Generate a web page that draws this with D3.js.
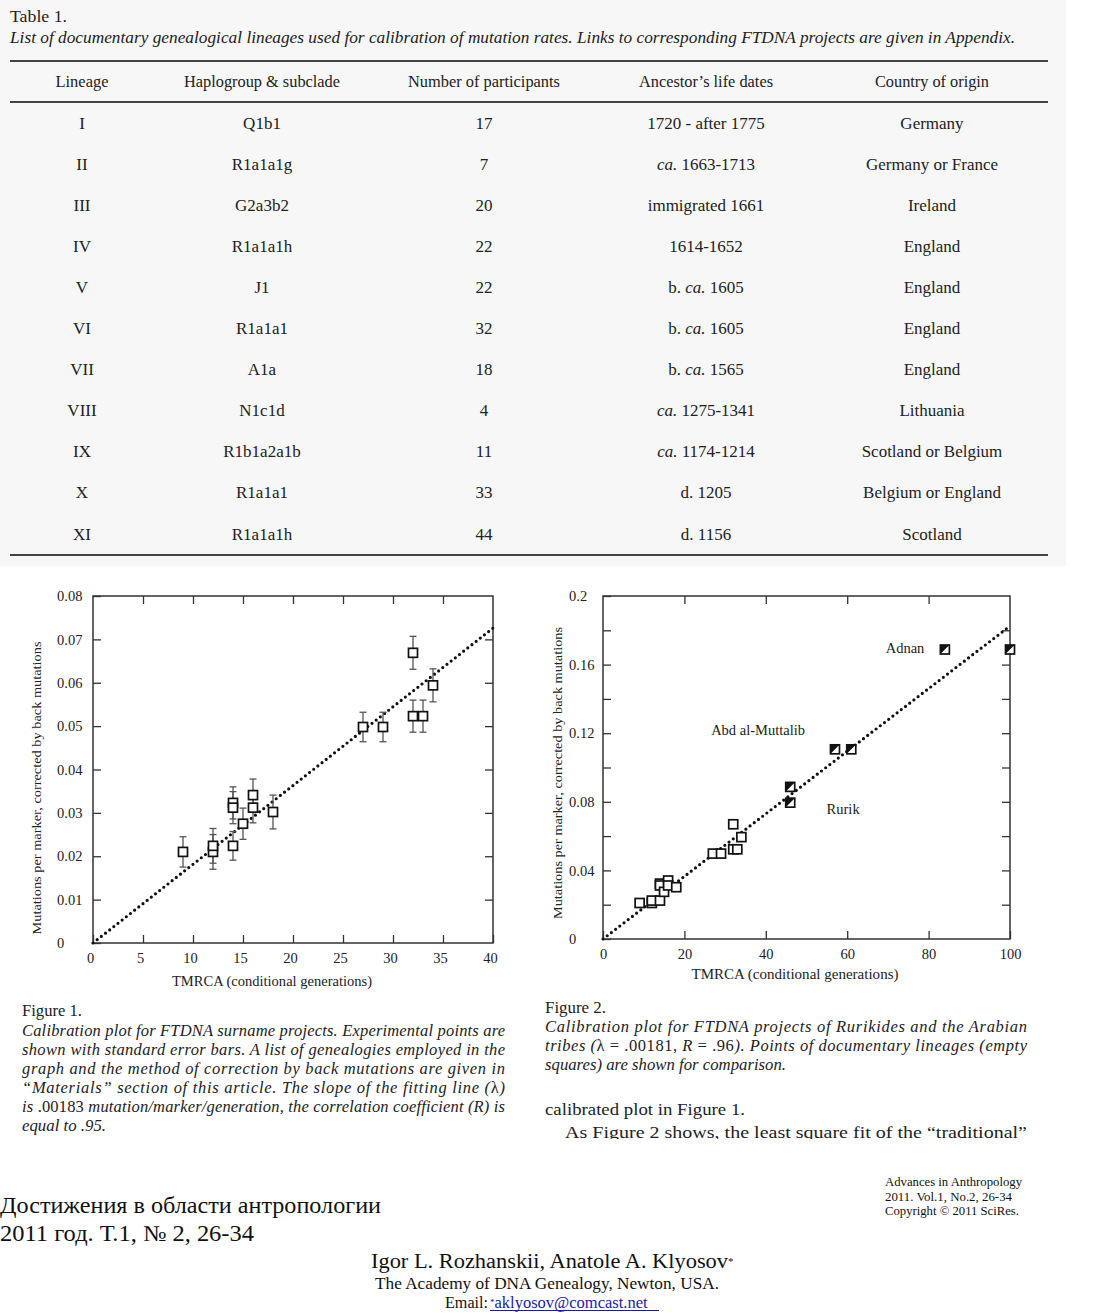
<!DOCTYPE html>
<html><head><meta charset="utf-8">
<script src="https://cdn.jsdelivr.net/npm/d3@7"></script>
<style>
html,body{margin:0;padding:0;background:#fff;}
svg{display:block;}
text{font-family:"Liberation Serif","Times New Roman",serif;}
</style></head>
<body>
<script>
// ---------- Table data ----------
const tableHeaders = ["Lineage","Haplogroup & subclade","Number of participants","Ancestor\u2019s life dates","Country of origin"];
const lineages = ["I","II","III","IV","V","VI","VII","VIII","IX","X","XI"];
const haplogroups = ["Q1b1","R1a1a1g","G2a3b2","R1a1a1h","J1","R1a1a1","A1a","N1c1d","R1b1a2a1b","R1a1a1","R1a1a1h"];
const participants = [17,7,20,22,22,32,18,4,11,33,44];
const lifeDates = ["1720 - after 1775","ca. 1663-1713","immigrated 1661","1614-1652","b. ca. 1605","b. ca. 1605","b. ca. 1565","ca. 1275-1341","ca. 1174-1214","d. 1205","d. 1156"];
const countries = ["Germany","Germany or France","Ireland","England","England","England","England","Lithuania","Scotland or Belgium","Belgium or England","Scotland"];

// ---------- Figure 1 data (documentary lineages) ----------
const tmrca = [9,12,12,14,14,14,15,16,16,18,27,29,32,32,33,34];
const mutRate = [0.021,0.021,0.0224,0.0323,0.0312,0.0224,0.0275,0.0341,0.0312,0.0302,0.0498,0.0498,0.0669,0.0523,0.0523,0.0594];
const mutErr = [0.0035,0.004,0.004,0.0037,0.0037,0.0033,0.0036,0.0037,0.0035,0.0039,0.0034,0.0034,0.0038,0.0037,0.0037,0.0038];
const fit1X = [0,40];
const fit1Y = [0,0.0726];
const fig1XTicks = [0,5,10,15,20,25,30,35,40];
const fig1YTicks = [0,0.01,0.02,0.03,0.04,0.05,0.06,0.07,0.08];
const fig1YLabels = ["0","0.01","0.02","0.03","0.04","0.05","0.06","0.07","0.08"];

// ---------- Figure 2 data (Rurikides & Arabian tribes) ----------
const tribeX = [46,46,57,61,84,100];
const tribeY = [0.0887,0.0795,0.1106,0.1106,0.1688,0.1688];
const fit2X = [0,100];
const fit2Y = [0,0.1825];
const fig2XTicks = [0,20,40,60,80,100];
const fig2YTicks = [0,0.02,0.04,0.06,0.08,0.1,0.12,0.14,0.16,0.18,0.2];
const fig2YLabelVals = [0,0.04,0.08,0.12,0.16,0.2];
const fig2YLabels = ["0","0.04","0.08","0.12","0.16","0.2"];
const annotations = ["Adnan","Abd al-Muttalib","Rurik"];
const annotX = [74.2,38.1,59];
const annotY = [0.1668,0.119,0.0729];

const W = 1106, H = 1314;
const svg = d3.select("body").append("svg").attr("width",W).attr("height",H);

// ---------- Table ----------
const tg = svg.append("g");
tg.append("rect").attr("x",0).attr("y",0).attr("width",1066).attr("height",566).attr("fill","#f7f7f7");
tg.append("text").attr("x",10).attr("y",22).attr("font-size",16).attr("fill","#222")
  .attr("textLength",57).attr("lengthAdjust","spacingAndGlyphs").text("Table 1.");
tg.append("text").attr("x",10).attr("y",43).attr("font-size",16.5).attr("font-style","italic").attr("fill","#222")
  .attr("textLength",1005).attr("lengthAdjust","spacingAndGlyphs")
  .text("List of documentary genealogical lineages used for calibration of mutation rates. Links to corresponding FTDNA projects are given in Appendix.");
[61,102,555].forEach(y=>{
  tg.append("line").attr("x1",10).attr("x2",1048).attr("y1",y).attr("y2",y).attr("stroke","#444").attr("stroke-width",1.8);
});
const colX = [82,262,484,706,932];
const headW = [53,156,152,134,114];
tableHeaders.forEach((h,i)=>{
  tg.append("text").attr("x",colX[i]).attr("y",87).attr("text-anchor","middle").attr("font-size",17).attr("fill","#222")
    .attr("textLength",headW[i]).attr("lengthAdjust","spacingAndGlyphs").text(h);
});
const rowY = d3.scaleLinear().domain([0,10]).range([123,534]);
lineages.forEach((l,i)=>{
  const y = rowY(i)+5.5;
  const cells = [l, haplogroups[i], String(participants[i]), lifeDates[i], countries[i]];
  cells.forEach((c,j)=>{
    const t = tg.append("text").attr("x",colX[j]).attr("y",y).attr("text-anchor","middle").attr("font-size",17).attr("fill","#222");
    if (j===3 && c.indexOf("ca.")>=0) {
      const parts = c.split("ca.");
      if (parts[0]) t.append("tspan").text(parts[0]);
      t.append("tspan").attr("font-style","italic").text("ca.");
      t.append("tspan").text(parts[1]);
    } else t.text(c);
  });
});

// ---------- helper for axes ----------
function styleAxis(g){
  g.select(".domain").remove();
  g.selectAll(".tick line").attr("stroke","#333").attr("stroke-width",1.3);
  g.selectAll(".tick text").attr("font-family","'Liberation Serif','Times New Roman',serif").attr("font-size",14.5).attr("fill","#222");
}
function dottedLine(g, xs, ys, xScale, yScale){
  const pts = xs.map((v,i)=>[xScale(v), yScale(ys[i])]);
  g.append("path").attr("d", d3.line()(pts)).attr("fill","none").attr("stroke","#111")
    .attr("stroke-width",3.2).attr("stroke-linecap","round").attr("stroke-dasharray","0 5.3");
}

// ---------- Figure 1 ----------
const f1 = svg.append("g");
const x1 = d3.scaleLinear().domain([0,40]).range([93,493]);
const y1 = d3.scaleLinear().domain([0,0.08]).range([943,596]);
f1.append("rect").attr("x",x1(0)).attr("y",y1(0.08)).attr("width",x1(40)-x1(0)).attr("height",y1(0)-y1(0.08))
  .attr("fill","#fff").attr("stroke","#333").attr("stroke-width",1.5);
f1.append("g").attr("transform",`translate(0,${y1(0)})`)
  .call(d3.axisBottom(x1).tickValues(fig1XTicks).tickSize(-8).tickPadding(10).tickFormat(d3.format("d")))
  .call(styleAxis).call(g=>g.selectAll(".tick text").attr("dx",-3));
f1.append("g").attr("transform",`translate(0,${y1(0.08)})`)
  .call(d3.axisTop(x1).tickValues(fig1XTicks.slice(1,-1)).tickSize(-8).tickFormat(""))
  .call(styleAxis);
f1.append("g").attr("transform",`translate(${x1(0)},0)`)
  .call(d3.axisLeft(y1).tickValues(fig1YTicks).tickSize(-8).tickFormat((d,i)=>fig1YLabels[i]))
  .call(styleAxis).call(g=>g.selectAll(".tick text").attr("text-anchor","start").attr("x",-36));
f1.append("g").attr("transform",`translate(${x1(40)},0)`)
  .call(d3.axisRight(y1).tickValues(fig1YTicks.slice(1,-1)).tickSize(-8).tickFormat(""))
  .call(styleAxis);
dottedLine(f1, fit1X, fit1Y, x1, y1);
// error bars
tmrca.forEach((t,i)=>{
  const cx = x1(t), top = y1(mutRate[i]+mutErr[i]), bot = y1(mutRate[i]-mutErr[i]);
  f1.append("line").attr("x1",cx).attr("x2",cx).attr("y1",top).attr("y2",bot).attr("stroke","#555").attr("stroke-width",1.3);
  [top,bot].forEach(yy=>f1.append("line").attr("x1",cx-3.5).attr("x2",cx+3.5).attr("y1",yy).attr("y2",yy).attr("stroke","#555").attr("stroke-width",1.3));
});
tmrca.forEach((t,i)=>{
  f1.append("rect").attr("x",x1(t)-4.5).attr("y",y1(mutRate[i])-4.5).attr("width",9).attr("height",9)
    .attr("fill","#fff").attr("stroke","#111").attr("stroke-width",1.7);
});
f1.append("text").attr("transform","translate(41,788) rotate(-90)").attr("text-anchor","middle").attr("font-size",13.5).attr("fill","#222")
  .attr("textLength",293).attr("lengthAdjust","spacingAndGlyphs").text("Mutations per marker, corrected by back mutations");
f1.append("text").attr("x",272).attr("y",986).attr("text-anchor","middle").attr("font-size",14).attr("fill","#222")
  .attr("textLength",200).attr("lengthAdjust","spacingAndGlyphs").text("TMRCA (conditional generations)");

// ---------- Figure 2 ----------
const f2 = svg.append("g");
const x2 = d3.scaleLinear().domain([0,100]).range([603,1010]);
const y2 = d3.scaleLinear().domain([0,0.2]).range([939,596]);
f2.append("rect").attr("x",x2(0)).attr("y",y2(0.2)).attr("width",x2(100)-x2(0)).attr("height",y2(0)-y2(0.2))
  .attr("fill","#fff").attr("stroke","#333").attr("stroke-width",1.5);
f2.append("g").attr("transform",`translate(0,${y2(0)})`)
  .call(d3.axisBottom(x2).tickValues(fig2XTicks).tickSize(-8).tickPadding(10).tickFormat(d3.format("d")))
  .call(styleAxis);
f2.append("g").attr("transform",`translate(0,${y2(0.2)})`)
  .call(d3.axisTop(x2).tickValues(fig2XTicks.slice(1,-1)).tickSize(-8).tickFormat(""))
  .call(styleAxis);
f2.append("g").attr("transform",`translate(${x2(0)},0)`)
  .call(d3.axisLeft(y2).tickValues(fig2YTicks).tickSize(-8).tickFormat(d=>{
    const k = fig2YLabelVals.findIndex(v=>Math.abs(v-d)<1e-9); return k>=0?fig2YLabels[k]:""; }))
  .call(styleAxis).call(g=>g.selectAll(".tick text").attr("text-anchor","start").attr("x",-34));
f2.append("g").attr("transform",`translate(${x2(100)},0)`)
  .call(d3.axisRight(y2).tickValues(fig2YTicks.slice(1,-1)).tickSize(-8).tickFormat(""))
  .call(styleAxis);
dottedLine(f2, fit2X, fit2Y, x2, y2);
tmrca.forEach((t,i)=>{
  f2.append("rect").attr("x",x2(t)-4.5).attr("y",y2(mutRate[i])-4.5).attr("width",9).attr("height",9)
    .attr("fill","#fff").attr("stroke","#111").attr("stroke-width",1.7);
});
tribeX.forEach((t,i)=>{
  const cx = x2(t), cy = y2(tribeY[i]), s = 4.5;
  f2.append("rect").attr("x",cx-s).attr("y",cy-s).attr("width",2*s).attr("height",2*s)
    .attr("fill","#fff").attr("stroke","#111").attr("stroke-width",1.7);
  f2.append("path").attr("d",`M${cx-s},${cy-s}L${cx+s},${cy-s}L${cx-s},${cy+s}Z`).attr("fill","#111");
});
annotations.forEach((a,i)=>{
  f2.append("text").attr("x",x2(annotX[i])).attr("y",y2(annotY[i])).attr("text-anchor","middle")
    .attr("font-size",14.5).attr("fill","#222").text(a);
});
f2.append("text").attr("transform","translate(562,773) rotate(-90)").attr("text-anchor","middle").attr("font-size",13.5).attr("fill","#222")
  .attr("textLength",292).attr("lengthAdjust","spacingAndGlyphs").text("Mutations per marker, corrected by back mutations");
f2.append("text").attr("x",795).attr("y",979).attr("text-anchor","middle").attr("font-size",14.5).attr("fill","#222")
  .attr("textLength",207).attr("lengthAdjust","spacingAndGlyphs").text("TMRCA (conditional generations)");

// ---------- Captions ----------
const cap = svg.append("g").attr("fill","#222");
function capLine(x,y,w,parts,size,justify){
  const t = cap.append("text").attr("x",x).attr("y",y).attr("font-size",size||16.5);
  if (w) t.attr("textLength",w).attr("lengthAdjust",justify?"spacing":"spacingAndGlyphs");
  parts.forEach(p=>{ t.append("tspan").attr("font-style",p[1]?"italic":"normal").text(p[0]); });
  return t;
}
capLine(22,1016,60,[["Figure 1.",0]],16);
capLine(22,1036,483,[["Calibration plot for FTDNA surname projects. Experimental points are",1]],16.5,true);
capLine(22,1055,483,[["shown with standard error bars. A list of genealogies employed in the",1]],16.5,true);
capLine(22,1074,483,[["graph and the method of correction by back mutations are given in",1]],16.5,true);
capLine(22,1093,483,[["\u201cMaterials\u201d section of this article. The slope of the fitting line (",1],["\u03bb",0],[")",1]],16.5,true);
capLine(22,1112,483,[["is ",1],[".00183",0],[" mutation/marker/generation, the correlation coefficient (",1],["R",1],[") is",1]],16.5,true);
capLine(22,1131,84,[["equal to .95.",1]],16.5);

capLine(545,1013,61,[["Figure 2.",0]],16);
capLine(545,1032,482,[["Calibration plot for FTDNA projects of Rurikides and the Arabian",1]],16.5,true);
capLine(545,1051,482,[["tribes (",1],["\u03bb = .00181, ",0],["R",1],[" = .96",0],[").",1],[" Points of documentary lineages (empty",1]],16.5,true);
capLine(545,1070,241,[["squares) are shown for comparison.",1]],16.5);
capLine(545,1115,200,[["calibrated plot in Figure 1.",0]],17.5);
svg.append("defs").append("clipPath").attr("id","cutoff").append("rect").attr("x",0).attr("y",1100).attr("width",W).attr("height",39);
capLine(565,1138,462,[["As Figure 2 shows, the least square fit of the \u201ctraditional\u201d",0]],17.5).attr("clip-path","url(#cutoff)");

// ---------- Footer ----------
const ft = svg.append("g").attr("fill","#111");
ft.append("text").attr("x",0).attr("y",1213).attr("font-size",22.5).attr("textLength",381).attr("lengthAdjust","spacingAndGlyphs").text("Достижения в области антропологии");
ft.append("text").attr("x",0).attr("y",1241).attr("font-size",22.5).attr("textLength",254).attr("lengthAdjust","spacingAndGlyphs").text("2011 год. Т.1, № 2, 26-34");
ft.append("text").attr("x",885).attr("y",1186).attr("font-size",12).attr("textLength",137).attr("lengthAdjust","spacingAndGlyphs").text("Advances in Anthropology");
ft.append("text").attr("x",885).attr("y",1201).attr("font-size",12).attr("textLength",127).attr("lengthAdjust","spacingAndGlyphs").text("2011. Vol.1, No.2, 26-34");
ft.append("text").attr("x",885).attr("y",1215).attr("font-size",12).attr("textLength",134).attr("lengthAdjust","spacingAndGlyphs").text("Copyright \u00a9 2011 SciRes.");
const au = ft.append("text").attr("x",371).attr("y",1268).attr("font-size",20.5);
au.append("tspan").attr("textLength",357).attr("lengthAdjust","spacingAndGlyphs").text("Igor L. Rozhanskii, Anatole A. Klyosov");
au.append("tspan").attr("font-size",11).attr("dy",-3).text("*");
ft.append("text").attr("x",375).attr("y",1289).attr("font-size",16.5).attr("textLength",344).attr("lengthAdjust","spacingAndGlyphs").text("The Academy of DNA Genealogy, Newton, USA.");
ft.append("text").attr("x",445).attr("y",1308).attr("font-size",16.5).attr("textLength",43).attr("lengthAdjust","spacingAndGlyphs").text("Email:");
const em = ft.append("text").attr("x",490).attr("y",1308).attr("font-size",16.5).attr("fill","#1a1aa8");
em.append("tspan").attr("font-size",9).attr("dy",-3).text("*");
em.append("tspan").attr("dy",3).text("aklyosov@comcast.net");
ft.append("line").attr("x1",490).attr("x2",659).attr("y1",1310.5).attr("y2",1310.5).attr("stroke","#1a1aa8").attr("stroke-width",1);
</script>
</body></html>
